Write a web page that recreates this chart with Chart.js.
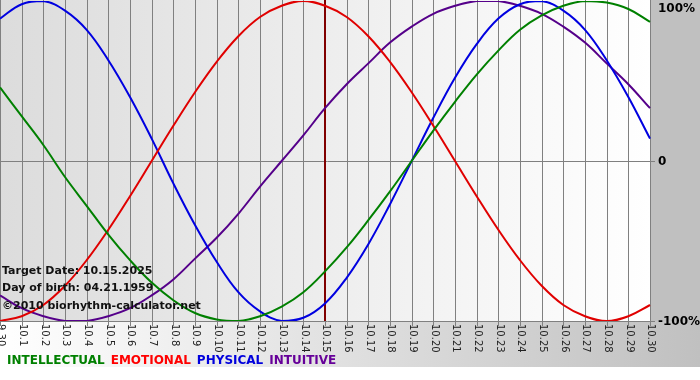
<!DOCTYPE html>
<html>
<head>
<meta charset="utf-8">
<script src="https://cdn.jsdelivr.net/npm/chart.js@4.4.1/dist/chart.umd.min.js"></script>
<style>
  body { margin: 0; background: #fff; }
  canvas { display: block; }
</style>
</head>
<body>
<canvas id="bioChart" width="700" height="380"></canvas>
<script>
const days = ["9.30", "10.1", "10.2", "10.3", "10.4", "10.5", "10.6", "10.7", "10.8", "10.9", "10.10",
    "10.11", "10.12", "10.13", "10.14", "10.15", "10.16", "10.17", "10.18", "10.19", "10.20",
    "10.21", "10.22", "10.23", "10.24", "10.25", "10.26", "10.27", "10.28", "10.29", "10.30"];

// values in percent
const intellectual = [46, 28, 10, -10, -28, -46, -62, -76, -87, -95, -99, -100, -97, -91, -82, -69,
    -54, -37, -19, 0, 19, 37, 54, 69, 82, 91, 97, 100, 99, 95, 87];
const emotional = [-100, -97, -90, -78, -62, -43, -22, 0, 22, 43, 62, 78, 90, 97, 100, 97,
    90, 78, 62, 43, 22, 0, -22, -43, -62, -78, -90, -97, -100, -97, -90];
const physical = [89, 98, 100, 94, 82, 63, 40, 14, -14, -40, -63, -82, -94, -100, -98, -89,
    -73, -52, -27, 0, 27, 52, 73, 89, 98, 100, 94, 82, 63, 40, 14];
const intuitive = [-84, -92, -97, -100, -100, -97, -92, -84, -74, -61, -48, -33, -16, 0, 16, 33,
    48, 61, 74, 84, 92, 97, 100, 100, 97, 92, 84, 74, 61, 48, 33];

const yTicks = [100, 0, -100];
const targetDay = "10.15";
const infoLines = ["Target Date: 10.15.2025", "Day of birth: 04.21.1959", "\u00a92010 biorhythm-calculator.net"];
const legendItems = [
    { text: "INTELLECTUAL", color: "#008000" },
    { text: "EMOTIONAL", color: "#ff0000" },
    { text: "PHYSICAL", color: "#0000dd" },
    { text: "INTUITIVE", color: "#660099" }
];

const FONT = '"DejaVu Sans", Verdana, sans-serif';

const bioBackground = {
    id: "bioBackground",
    beforeDraw(chart) {
        const { ctx, chartArea: a, scales: { x, y } } = chart;
        const W = chart.width;
        ctx.save();
        ctx.fillStyle = "#fff";
        ctx.fillRect(0, 0, W, chart.height);

        // bottom strip under the axis
        let g = ctx.createLinearGradient(0, 0, W, 0);
        g.addColorStop(0, "#ffffff");
        g.addColorStop(1, "#c0c0c0");
        ctx.fillStyle = g;
        ctx.fillRect(0, a.bottom, W, 46);

        // right panel
        ctx.fillStyle = "#c0c0c0";
        ctx.fillRect(a.right, 0, W - a.right, a.bottom);

        // plot area
        g = ctx.createLinearGradient(a.left, 0, a.right, 0);
        g.addColorStop(0, "#dcdcdc");
        g.addColorStop(1, "#ffffff");
        ctx.fillStyle = g;
        ctx.fillRect(a.left, 0, a.right - a.left, a.bottom);

        // vertical day lines + ticks
        ctx.strokeStyle = "#808080";
        ctx.lineWidth = 1;
        ctx.beginPath();
        days.forEach((d, i) => {
            const px = Math.round(x.getPixelForValue(i)) + 0.5;
            ctx.moveTo(px, 0);
            ctx.lineTo(px, a.bottom + 5);
        });
        const zy = Math.round(y.getPixelForValue(0)) + 0.5;
        ctx.moveTo(a.left, zy);
        ctx.lineTo(a.right + 5, zy);
        const by = Math.round(y.getPixelForValue(-100)) + 0.5;
        ctx.moveTo(a.left, by);
        ctx.lineTo(a.right + 5, by);
        ctx.stroke();

        // target day marker
        const tx = x.getPixelForValue(days.indexOf(targetDay));
        ctx.strokeStyle = "#800000";
        ctx.lineWidth = 2;
        ctx.beginPath();
        ctx.moveTo(tx, 0);
        ctx.lineTo(tx, a.bottom);
        ctx.stroke();
        ctx.restore();
    },
    afterDraw(chart) {
        const { ctx, chartArea: a, scales: { x, y } } = chart;
        ctx.save();

        // day labels, reading top to bottom
        ctx.fillStyle = "#222";
        ctx.font = "10px " + FONT;
        ctx.textAlign = "left";
        ctx.textBaseline = "middle";
        days.forEach((d, i) => {
            ctx.save();
            ctx.translate(x.getPixelForValue(i) + 1, a.bottom + 3);
            ctx.rotate(Math.PI / 2);
            ctx.fillText(d, 0, 0);
            ctx.restore();
        });

        // percent labels on the right
        ctx.fillStyle = "#000";
        ctx.font = "bold 12px " + FONT;
        yTicks.forEach(v => {
            const py = Math.min(Math.max(y.getPixelForValue(v), 8), a.bottom);
            ctx.fillText(v === 0 ? "0" : v + "%", a.right + 8, py + 1);
        });

        // info text
        ctx.font = "bold 11px " + FONT;
        ctx.fillStyle = "#111";
        infoLines.forEach((t, i) => {
            ctx.fillText(t, 2, 271 + i * 17.5);
        });

        // legend
        ctx.font = "bold 12px " + FONT;
        let lx = 7;
        legendItems.forEach(item => {
            ctx.fillStyle = item.color;
            ctx.fillText(item.text, lx, 361);
            lx += ctx.measureText(item.text).width + 6;
        });
        ctx.restore();
    }
};

const line = (data, color) => ({
    data: data,
    borderColor: color,
    borderWidth: 2,
    pointRadius: 0,
    tension: 0.4,
    fill: false
});

new Chart(document.getElementById("bioChart"), {
    type: "line",
    data: {
        labels: days,
        datasets: [
            line(intellectual, "#008000"),
            line(emotional, "#e00000"),
            line(physical, "#0000e0"),
            line(intuitive, "#55008a")
        ]
    },
    options: {
        responsive: false,
        animation: false,
        layout: { padding: { left: 0, top: 1, right: 50, bottom: 59 } },
        plugins: { legend: { display: false }, tooltip: { enabled: false } },
        scales: {
            x: { display: false },
            y: { display: false, min: -100, max: 100 }
        }
    },
    plugins: [bioBackground]
});
</script>
</body>
</html>
